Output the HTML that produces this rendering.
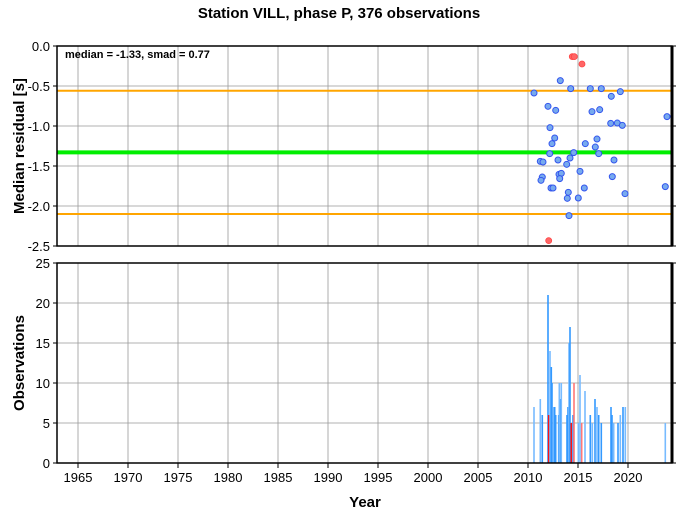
<!DOCTYPE html>
<html><head><meta charset="utf-8"><style>
body{margin:0;background:#fff}
svg{display:block;font-family:"Liberation Sans",sans-serif}
</style></head><body>
<svg id="c" width="678" height="511">
<text x="339" y="18" text-anchor="middle" font-size="15" font-weight="bold">Station VILL, phase P, 376 observations</text>
<g id="gtop"></g>
<g id="gbot"></g>
<text x="24" y="146" transform="rotate(-90 24 146)" text-anchor="middle" font-size="15" font-weight="bold">Median residual [s]</text>
<text x="24" y="363" transform="rotate(-90 24 363)" text-anchor="middle" font-size="15" font-weight="bold">Observations</text>
<text x="365" y="507" text-anchor="middle" font-size="15" font-weight="bold">Year</text>
<text x="65" y="58" font-size="11" font-weight="bold">median = -1.33, smad = 0.77</text>
</svg>
<script>
const xTicks=[1965,1970,1975,1980,1985,1990,1995,2000,2005,2010,2015,2020];
const yTicksTop=[0.0,-0.5,-1.0,-1.5,-2.0,-2.5];
const yTicksBot=[0,5,10,15,20,25];
const medianVal=-1.33, smadVal=0.77;
const blueYears=[2013.23,2014.27,2016.23,2017.33,2010.60,2019.23,2018.33,2012.00,2012.77,2016.40,2017.17,2023.90,2012.20,2018.27,2018.93,2019.43,2012.67,2012.40,2016.90,2015.73,2016.73,2012.17,2014.57,2017.07,2014.20,2013.00,2011.23,2011.50,2018.60,2013.87,2015.20,2013.10,2013.33,2011.43,2011.30,2013.17,2018.43,2012.30,2012.50,2015.63,2014.03,2019.70,2023.73,2013.93,2015.03,2014.10];
const blueVals=[-0.433,-0.533,-0.533,-0.533,-0.588,-0.571,-0.629,-0.754,-0.804,-0.821,-0.796,-0.883,-1.021,-0.967,-0.963,-0.992,-1.15,-1.221,-1.163,-1.221,-1.263,-1.346,-1.333,-1.346,-1.4,-1.425,-1.442,-1.45,-1.425,-1.479,-1.567,-1.604,-1.592,-1.638,-1.679,-1.658,-1.633,-1.775,-1.775,-1.775,-1.829,-1.846,-1.758,-1.904,-1.9,-2.121];
const redYears=[2014.43,2014.63,2015.40,2012.07];
const redVals=[-0.133,-0.133,-0.225,-2.433];
const barYears=[2010.60,2011.23,2011.43,2012.00,2012.07,2012.20,2012.33,2012.40,2012.57,2012.67,2012.77,2013.07,2013.13,2013.27,2013.33,2013.90,2014.00,2014.10,2014.20,2014.33,2014.50,2014.60,2015.03,2015.20,2015.37,2015.70,2016.23,2016.43,2016.70,2016.90,2017.07,2017.33,2018.30,2018.40,2018.57,2019.00,2019.23,2019.50,2019.73,2023.73];
const barCounts=[7,8,6,21,6,14,12,10,7,7,6,6,10,8,10,6,7,15,17,5,6,10,5,11,5,9,6,5,8,7,6,5,7,6,5,5,6,7,7,5];
const barColors=['l','l','b','b','r','l','b','b','l','b','b','b','l','b','l','b','b','l','b','r','b','lr','l','l','lr','l','b','l','b','l','b','b','b','b','l','b','l','b','l','l'];
const NS='http://www.w3.org/2000/svg';
const L=57,R=672,x0=1962.9,x1=2024.4;
const X=v=>L+(v-x0)/(x1-x0)*(R-L);
const YT=v=>46+(-v)/2.5*200;
const YB=v=>463-v/25*200;
function mk(p,t,a){const e=document.createElementNS(NS,t);for(const k in a)e.setAttribute(k,a[k]);p.appendChild(e);return e;}
const gTop=document.getElementById('gtop'),gBot=document.getElementById('gbot');
[[gTop,46,246],[gBot,263,463]].forEach(([g,t,b])=>{
 xTicks.forEach(v=>{const l=mk(g,'line',{x1:X(v),x2:X(v),y1:t,y2:b,stroke:'#999','stroke-width':0.8});
 
 });
});
yTicksTop.forEach(v=>{const y=YT(v);
 const l=mk(gTop,'line',{x1:L,x2:R,y1:y,y2:y,stroke:'#999','stroke-width':0.8});
 
 
 const t=mk(gTop,'text',{x:L-7,y:y+5,'text-anchor':'end','font-size':13});t.textContent=v.toFixed(1);
 
 
 mk(gTop,'line',{x1:L-4,x2:L,y1:y,y2:y,stroke:'#000'});mk(gTop,'line',{x1:R,x2:R+4,y1:y,y2:y,stroke:'#000'});
});
yTicksBot.forEach(v=>{const y=YB(v);
 const l=mk(gBot,'line',{x1:L,x2:R,y1:y,y2:y,stroke:'#999','stroke-width':0.8});
 
 
 const t=mk(gBot,'text',{x:L-7,y:y+5,'text-anchor':'end','font-size':13});t.textContent=v;
 
 
 mk(gBot,'line',{x1:L-4,x2:L,y1:y,y2:y,stroke:'#000'});mk(gBot,'line',{x1:R,x2:R+4,y1:y,y2:y,stroke:'#000'});
});
xTicks.forEach(v=>{
 mk(gBot,'line',{x1:X(v),x2:X(v),y1:463,y2:468,stroke:'#000'});
 const t=mk(gBot,'text',{x:X(v),y:482,'text-anchor':'middle','font-size':13});t.textContent=v;
 
 
});
[[medianVal+smadVal,'#ffa500',2,'upper-smad-line'],[medianVal-smadVal,'#ffa500',2,'lower-smad-line'],[medianVal,'#00ee00',4,'median-line']].forEach(([v,c,w,n])=>{
 const l=mk(gTop,'line',{x1:L,x2:R,y1:YT(v),y2:YT(v),stroke:c,'stroke-width':w});
 
 
});
blueYears.forEach((yr,i)=>{const c=mk(gTop,'circle',{cx:X(yr),cy:YT(blueVals[i]),r:3,fill:'#77aaee',stroke:'#3355ee','stroke-width':1});
 
 });
redYears.forEach((yr,i)=>{const c=mk(gTop,'circle',{cx:X(yr),cy:YT(redVals[i]),r:3,fill:'#ff6666',stroke:'#ff4444','stroke-width':0.8});
 
 });
const cmap={b:'#3399ff',l:'#77bbff',r:'#ff1111',lr:'#ff7777'};
barYears.forEach((yr,i)=>{const y=YB(barCounts[i]);const r=mk(gBot,'rect',{x:X(yr)-0.8,y:y,width:1.6,height:463-y,fill:cmap[barColors[i]]});
 
 });
[[gTop,46,246],[gBot,263,463]].forEach(([g,t,b])=>{
 const f=mk(g,'rect',{x:L,y:t,width:R-L,height:b-t,fill:'none',stroke:'#000','stroke-width':1.5});
 
 
 mk(g,'line',{x1:R,x2:R,y1:t,y2:b,stroke:'#000','stroke-width':3});
});
</script>
</body></html>
